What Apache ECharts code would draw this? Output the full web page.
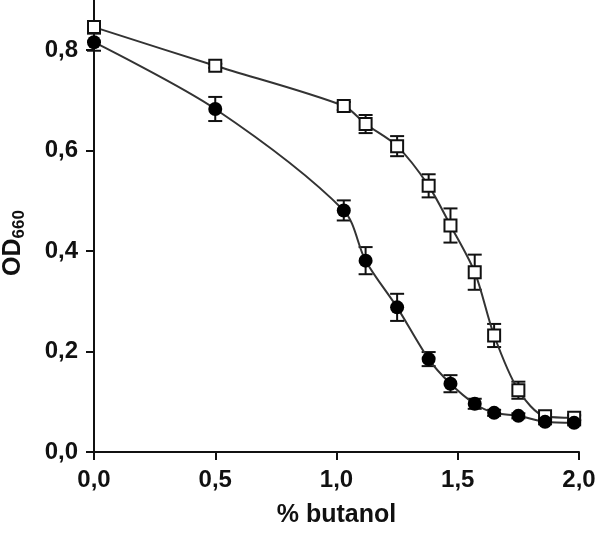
<!DOCTYPE html>
<html>
<head>
<meta charset="utf-8">
<script src="https://cdn.jsdelivr.net/npm/echarts@6/dist/echarts.min.js"></script>
<style>
html,body{margin:0;padding:0;background:#fff;}
#chart{width:600px;height:533px;}
</style>
</head>
<body>
<div id="chart"></div>
<script>
// Open squares series
var squareX = [0.0, 0.5, 1.03, 1.12, 1.25, 1.38, 1.47, 1.57, 1.65, 1.75, 1.86, 1.98];
var squareY = [0.846, 0.769, 0.689, 0.653, 0.609, 0.530, 0.451, 0.358, 0.232, 0.123, 0.071, 0.068];
var squareErr = [0.005, 0.004, 0.008, 0.018, 0.02, 0.023, 0.034, 0.035, 0.023, 0.017, 0.005, 0.005];
// Filled circles series
var circleX = [0.0, 0.5, 1.03, 1.12, 1.25, 1.38, 1.47, 1.57, 1.65, 1.75, 1.86, 1.98];
var circleY = [0.816, 0.683, 0.481, 0.381, 0.288, 0.185, 0.136, 0.096, 0.078, 0.072, 0.060, 0.058];
var circleErr = [0.017, 0.024, 0.02, 0.027, 0.027, 0.014, 0.017, 0.01, 0.006, 0.005, 0.005, 0.005];
// Tick labels
var xTicks = [0.0, 0.5, 1.0, 1.5, 2.0];
var yTicks = [0.0, 0.2, 0.4, 0.6, 0.8];

var FONT = '"Liberation Sans", Arial, sans-serif';
function fmt(v){ return Number(v).toFixed(1).replace('.', ','); }
function pairs(xs, ys){ return xs.map(function(x,i){ return [x, ys[i]]; }); }
function errData(xs, ys, es){ return xs.map(function(x,i){ return [x, ys[i]-es[i], ys[i]+es[i]]; }); }

function renderErr(params, api){
  var x = api.value(0);
  var lo = api.coord([x, api.value(1)]);
  var hi = api.coord([x, api.value(2)]);
  var cap = 7;
  var st = {stroke:'#111', lineWidth:2};
  return {type:'group', children:[
    {type:'line', shape:{x1:lo[0], y1:lo[1], x2:hi[0], y2:hi[1]}, style:st},
    {type:'line', shape:{x1:lo[0]-cap, y1:lo[1], x2:lo[0]+cap, y2:lo[1]}, style:st},
    {type:'line', shape:{x1:hi[0]-cap, y1:hi[1], x2:hi[0]+cap, y2:hi[1]}, style:st}
  ]};
}

var chart = echarts.init(document.getElementById('chart'));
chart.setOption({
  animation:false,
  backgroundColor:'#fff',
  grid:{left:94, right:21, top:0, bottom:78, containLabel:false},
  xAxis:{
    type:'value', min:0, max:2, interval:0.5,
    axisLine:{show:true, onZero:false, lineStyle:{color:'#111', width:2}},
    axisTick:{show:true, length:8, lineStyle:{color:'#111', width:2}, customValues:xTicks},
    axisLabel:{customValues:xTicks, formatter:fmt, margin:16, color:'#111', fontSize:24, fontWeight:'bold', fontFamily:FONT},
    splitLine:{show:false},
    name:'% butanol', nameLocation:'middle', nameGap:51,
    nameTextStyle:{color:'#111', fontSize:25, fontWeight:'bold', fontFamily:FONT}
  },
  yAxis:{
    type:'value', min:0, max:0.9, interval:0.2,
    axisLine:{show:true, onZero:false, lineStyle:{color:'#111', width:2}},
    axisTick:{show:true, length:8, lineStyle:{color:'#111', width:2}, customValues:yTicks},
    axisLabel:{customValues:yTicks, formatter:fmt, margin:16, color:'#111', fontSize:24, fontWeight:'bold', fontFamily:FONT},
    splitLine:{show:false}
  },
  graphic:[{
    type:'text', x:13, y:243, rotation:Math.PI/2,
    style:{
      text:'{a|OD}{b|660}', align:'center', verticalAlign:'middle',
      rich:{
        a:{fontSize:25, fontWeight:'bold', fontFamily:FONT, fill:'#111', lineHeight:30},
        b:{fontSize:17, fontWeight:'bold', fontFamily:FONT, fill:'#111', verticalAlign:'bottom', lineHeight:17, padding:[10,0,0,0]}
      }
    }
  }],
  series:[
    {type:'custom', renderItem:renderErr, data:errData(squareX, squareY, squareErr), z:1, clip:false},
    {type:'custom', renderItem:renderErr, data:errData(circleX, circleY, circleErr), z:1, clip:false},
    {type:'line', data:pairs(squareX, squareY), smooth:0.3, clip:false, z:3,
      lineStyle:{color:'#333', width:2},
      symbol:'rect', symbolSize:12, showAllSymbol:true,
      itemStyle:{color:'#fff', borderColor:'#111', borderWidth:2}},
    {type:'line', data:pairs(circleX, circleY), smooth:0.3, clip:false, z:3,
      lineStyle:{color:'#333', width:2},
      symbol:'circle', symbolSize:14, showAllSymbol:true,
      itemStyle:{color:'#000', borderColor:'#000', borderWidth:0}}
  ]
});
</script>
</body>
</html>
